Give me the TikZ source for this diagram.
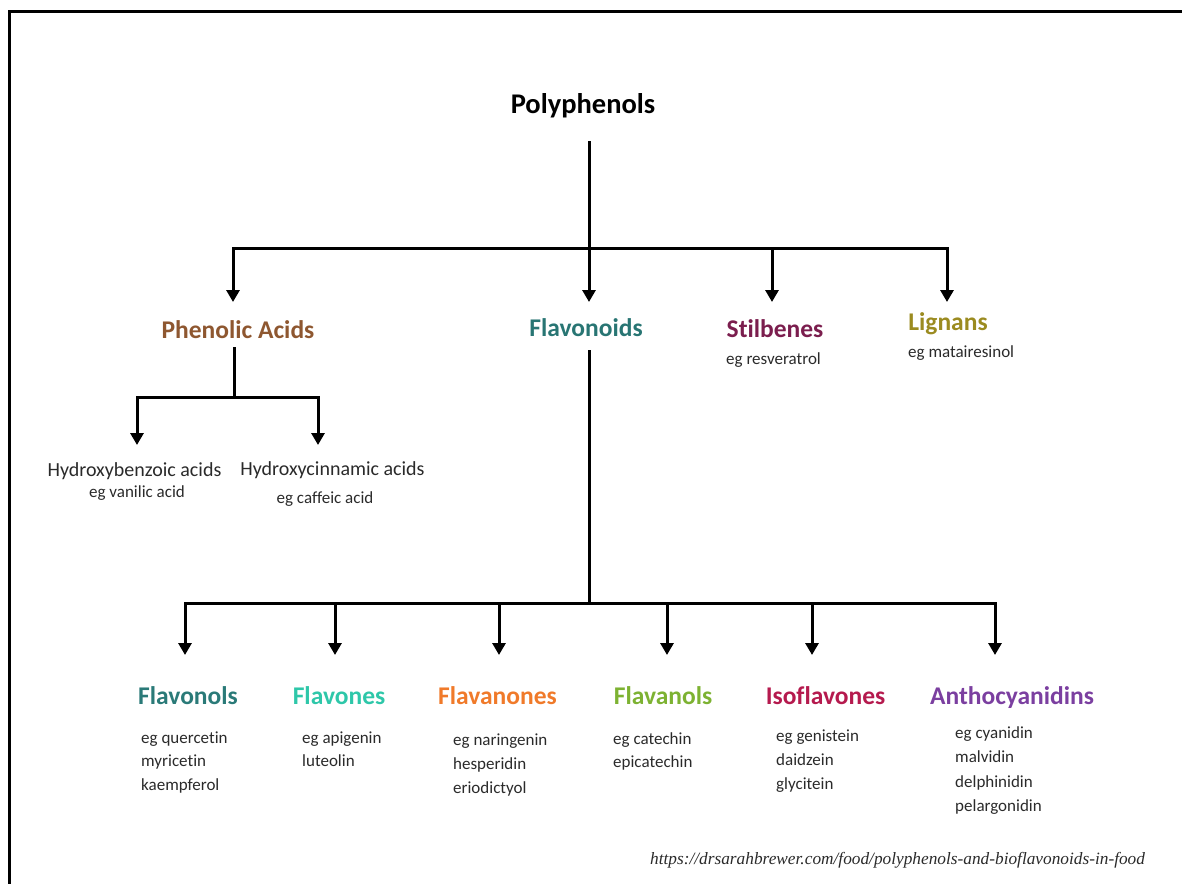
\documentclass[tikz,border=0pt]{standalone}
\usepackage{fontspec}
\setmainfont{Carlito}[Ligatures=NoCommon]
\newfontfamily\urlfont{Liberation Serif}
\usetikzlibrary{arrows.meta}
\definecolor{cPhen}{HTML}{8E5730}
\definecolor{cFlav}{HTML}{287573}
\definecolor{cStil}{HTML}{7B1E4E}
\definecolor{cLig}{HTML}{9B8B20}
\definecolor{cFlol}{HTML}{2A7A78}
\definecolor{cFlon}{HTML}{2EC7A9}
\definecolor{cFlan}{HTML}{F07A2A}
\definecolor{cFlal}{HTML}{7DB232}
\definecolor{cIso}{HTML}{B51A4E}
\definecolor{cAnt}{HTML}{7B3FA0}
\definecolor{cTxt}{HTML}{2A2A2A}
\begin{document}
\begin{tikzpicture}[x=1pt,y=-1pt,
  conn/.style={line width=3pt, black},
  bar/.style={conn, line cap=rect},
  arr/.style={conn, -{Triangle[width=13pt,length=12pt]}},
  head/.style={font=\fontsize{25.5}{30}\selectfont\bfseries, inner sep=0pt, anchor=north, text depth=0pt},
  sub/.style={font=\fontsize{17}{20}\selectfont, inner sep=0pt, anchor=base west, text=cTxt},
  hyd/.style={font=\fontsize{20}{24}\selectfont, inner sep=0pt, anchor=north, text=cTxt, text depth=0pt}]
\useasboundingbox (0,0) rectangle (1182,883);
\begin{scope}
\clip (0,0) rectangle (1182,883);
\draw[line width=3pt] (9.5,11.5) rectangle (1200,900);
\end{scope}

% root
\node[font=\fontsize{28.5}{32}\selectfont\bfseries, inner sep=0pt, anchor=base, text depth=28pt] (poly) at (583,113) {Polyphenols};
\coordinate (jTop) at (589,248);
\coordinate (jPA) at (233,248);
\coordinate (jST) at (772,248);
\coordinate (jLI) at (947,248);
\draw[conn] (poly.south -| jTop) -- (jTop);
\draw[bar] (jPA) -- (jLI);

% level 1
\node[head, text=cPhen, text height=36pt, text depth=9pt] (pa) at (238,302) {Phenolic Acids};
\node[head, text=cFlav, text height=34pt, text depth=14pt] (fl) at (586,302) {Flavonoids};
\node[head, text=cStil, text height=35pt] (st) at (775,302) {Stilbenes};
\node[sub] (stx) at (726,364) {eg resveratrol};
\node[head, text=cLig, text height=28pt] (li) at (948,302) {Lignans};
\node[sub] (lix) at (908,357) {eg matairesinol};
\draw[arr] (jPA) -- (jPA |- pa.north);
\draw[arr] (jTop) -- (jTop |- fl.north);
\draw[arr] (jST) -- (jST |- st.north);
\draw[arr] (jLI) -- (jLI |- li.north);

% phenolic acids branch
\coordinate (jPh) at (234,397);
\coordinate (jHB) at (137,397);
\coordinate (jHC) at (318,397);
\draw[conn] (pa.south -| jPh) -- (jPh);
\draw[bar] (jHB) -- (jHC);
\node[hyd, text height=31pt] (hb) at (134.5,445) {Hydroxybenzoic acids};
\node[sub, anchor=base] (hbx) at (137,497) {eg vanilic acid};
\node[hyd, text height=30pt] (hc) at (332.5,445) {Hydroxycinnamic acids};
\node[sub, anchor=base] (hcx) at (325,503) {eg caffeic acid};
\draw[arr] (jHB) -- (jHB |- hb.north);
\draw[arr] (jHC) -- (jHC |- hc.north);

% flavonoids branch
\coordinate (jFl) at (589,603);
\coordinate (j1) at (185,603);
\coordinate (j2) at (335,603);
\coordinate (j3) at (499,603);
\coordinate (j4) at (667,603);
\coordinate (j5) at (812,603);
\coordinate (j6) at (995,603);
\draw[conn] (fl.south -| jFl) -- (jFl);
\draw[bar] (j1) -- (j6);

\node[head, text=cFlol, text height=49pt] (h1) at (188,655) {Flavonols};
\node[head, text=cFlon, text height=49pt] (h2) at (339,655) {Flavones};
\node[head, text=cFlan, text height=49pt] (h3) at (497.5,655) {Flavanones};
\node[head, text=cFlal, text height=49pt] (h4) at (663,655) {Flavanols};
\node[head, text=cIso, text height=49pt] (h5) at (825.5,655) {Isoflavones};
\node[head, text=cAnt, text height=49pt] (h6) at (1012,655) {Anthocyanidins};
\foreach \i in {1,...,6} \draw[arr] (j\i) -- (j\i |- h\i.north);

\foreach \t [count=\k] in {eg quercetin, myricetin, kaempferol}
  \node[sub] (s1-\k) at (141,{743+23.5*(\k-1)}) {\t};
\foreach \t [count=\k] in {eg apigenin, luteolin}
  \node[sub] (s2-\k) at (302,{743+23.5*(\k-1)}) {\t};
\foreach \t [count=\k] in {eg naringenin, hesperidin, eriodictyol}
  \node[sub] (s3-\k) at (453,{745.5+24*(\k-1)}) {\t};
\foreach \t [count=\k] in {eg catechin, epicatechin}
  \node[sub] (s4-\k) at (613,{744+23.5*(\k-1)}) {\t};
\foreach \t [count=\k] in {eg genistein, daidzein, glycitein}
  \node[sub] (s5-\k) at (776,{741+24*(\k-1)}) {\t};
\foreach \t [count=\k] in {eg cyanidin, malvidin, delphinidin, pelargonidin}
  \node[sub] (s6-\k) at (955,{738+24.6*(\k-1)}) {\t};

% source
\node[font=\urlfont\itshape\fontsize{17.3}{20}\selectfont, anchor=base west, inner sep=0pt, text=cTxt] (url) at (650,864) {https://drsarahbrewer.com/food/polyphenols-and-bioflavonoids-in-food};
\end{tikzpicture}
\end{document}
